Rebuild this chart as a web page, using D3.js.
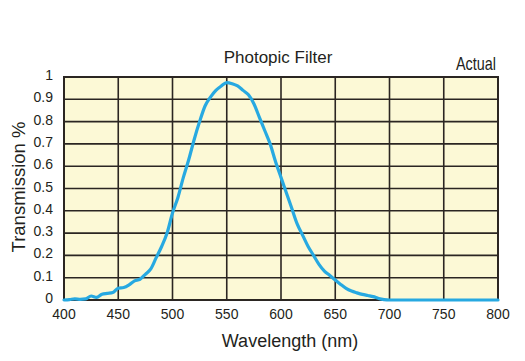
<!DOCTYPE html>
<html>
<head>
<meta charset="utf-8">
<script src="https://cdn.jsdelivr.net/npm/d3@7"></script>
<style>
html,body{margin:0;padding:0;background:#fff;}
svg{display:block;}
text{font-family:"Liberation Sans",Arial,Helvetica,sans-serif;fill:#231f20;}
</style>
</head>
<body>
<svg id="chart" width="525" height="361"></svg>
<script>
const wavelengths = [400,405,410,415,420,425,430,435,440,445,450,455,460,465,470,475,480,485,490,495,500,505,510,515,520,525,530,535,540,545,550,555,560,565,570,575,580,585,590,595,600,605,610,615,620,625,630,635,640,645,650,655,660,665,670,675,680,685,690,695,700,710,720,730,740,750,760,770,780,790,800];
const transmission = [0.0,0.002,0.005,0.003,0.005,0.018,0.012,0.026,0.03,0.034,0.053,0.056,0.068,0.086,0.093,0.115,0.14,0.19,0.24,0.3,0.39,0.46,0.55,0.63,0.72,0.8,0.87,0.91,0.94,0.96,0.975,0.97,0.96,0.94,0.92,0.88,0.82,0.76,0.7,0.62,0.55,0.48,0.41,0.34,0.29,0.24,0.2,0.16,0.13,0.11,0.09,0.07,0.052,0.04,0.032,0.025,0.02,0.015,0.007,0.002,0.0,0.0,0.0,0.0,0.0,0.0,0.0,0.0,0.0,0.0,0.0];
const xTicks = [400,450,500,550,600,650,700,750,800];
const yTicks = [0,0.1,0.2,0.3,0.4,0.5,0.6,0.7,0.8,0.9,1];
const yTickLabels = ["0","0.1","0.2","0.3","0.4","0.5","0.6","0.7","0.8","0.9","1"];
const title = "Photopic Filter";
const tag = "Actual";
const xTitle = "Wavelength (nm)";
const yTitle = "Transmission %";

const svg = d3.select("#chart");
const L = 64, R = 498, T = 77, B = 300;
const x = d3.scaleLinear().domain([400,800]).range([L,R]);
const y = d3.scaleLinear().domain([0,1]).range([B,T]);

svg.append("rect").attr("x",L).attr("y",T).attr("width",R-L).attr("height",B-T).attr("fill","#fcf9d6");

const grid = svg.append("g").attr("stroke","#2b2622").attr("stroke-width",1.6);
grid.selectAll("line.v").data(xTicks).join("line")
  .attr("x1",d=>x(d)).attr("x2",d=>x(d)).attr("y1",T).attr("y2",B);
grid.selectAll("line.h").data(yTicks).join("line")
  .attr("y1",d=>y(d)).attr("y2",d=>y(d)).attr("x1",L).attr("x2",R);
svg.append("rect").attr("x",L).attr("y",T).attr("width",R-L).attr("height",B-T)
  .attr("fill","none").attr("stroke","#2b2622").attr("stroke-width",2);

const line = d3.line().x((d,i)=>x(wavelengths[i])).y(d=>y(d)).curve(d3.curveMonotoneX);
svg.append("path").datum(transmission).attr("d",line)
  .attr("fill","none").attr("stroke","#27a9e1").attr("stroke-width",3.2)
  .attr("stroke-linejoin","round").attr("stroke-linecap","round");

// x tick labels
svg.append("g").selectAll("text").data(xTicks).join("text")
  .attr("x",d=>x(d)).attr("y",319).attr("text-anchor","middle")
  .attr("font-size",14).text(d=>d);
// y tick labels
svg.append("g").selectAll("text").data(yTicks).join("text")
  .attr("x",53).attr("y",d=>y(d)+3).attr("text-anchor","end")
  .attr("font-size",14).text((d,i)=>yTickLabels[i]);

svg.append("text").attr("x",278).attr("y",63).attr("text-anchor","middle")
  .attr("font-size",17).text(title);
svg.append("text").attr("transform","translate(496,70) scale(0.8,1)").attr("text-anchor","end")
  .attr("font-size",18).text(tag);
svg.append("text").attr("x",290).attr("y",347).attr("text-anchor","middle")
  .attr("font-size",18).text(xTitle);
svg.append("text").attr("transform","translate(25,187) rotate(-90)").attr("text-anchor","middle")
  .attr("font-size",18.5).text(yTitle);
</script>
</body>
</html>
